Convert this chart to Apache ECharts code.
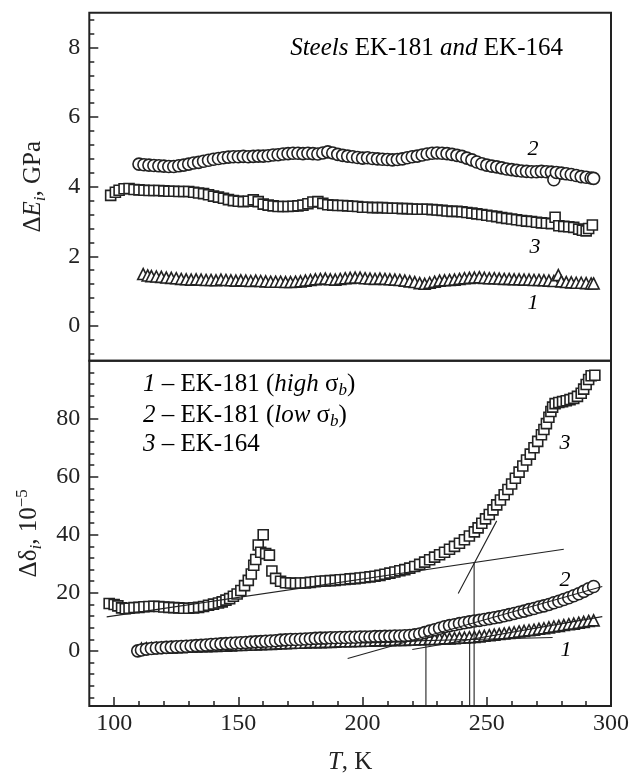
<!DOCTYPE html>
<html>
<head>
<meta charset="utf-8">
<script src="https://cdn.jsdelivr.net/npm/echarts@6/dist/echarts.min.js"></script>
<style>
  html, body { margin: 0; padding: 0; background: #fff; }
  #chart { width: 642px; height: 776px; }
</style>
</head>
<body>
<div id="chart"></div>
<script>
// top panel: ΔE_i, GPa  [T, value]
const modulus1 = [[111.7,1.49],[113.5,1.45],[115,1.43],[117,1.42],[119,1.41],[121,1.39],[123,1.38],[125,1.37],[127,1.35],[129,1.34],[131,1.33],[133,1.34],[135,1.33],[137,1.32],[139,1.32],[141,1.31],[143,1.33],[145,1.32],[147,1.31],[149,1.30],[151,1.31],[153,1.30],[155,1.29],[157,1.30],[159,1.29],[161,1.28],[163,1.27],[165,1.27],[167,1.27],[169,1.26],[171,1.26],[173,1.27],[175,1.28],[177,1.30],[179,1.32],[181,1.34],[183,1.35],[185,1.36],[187,1.34],[189,1.33],[191,1.35],[193,1.37],[195,1.38],[197,1.39],[199,1.39],[201,1.37],[203,1.36],[205,1.35],[207,1.36],[209,1.35],[211,1.34],[213,1.33],[215,1.32],[217,1.30],[219,1.28],[221,1.26],[223,1.23],[225,1.21],[227,1.24],[229,1.27],[231,1.30],[233,1.31],[235,1.32],[237,1.33],[239,1.35],[241,1.37],[243,1.38],[245,1.39],[247,1.40],[249,1.38],[251,1.37],[253,1.37],[255,1.36],[257,1.35],[259,1.35],[261,1.34],[263,1.34],[265,1.33],[267,1.33],[269,1.32],[271,1.32],[273,1.31],[275,1.30],[277,1.29],[278.8,1.46],[280,1.28],[282,1.26],[284,1.25],[286,1.24],[288,1.24],[290,1.23],[292,1.22],[293,1.22]]
const modulus2 = [[110,4.65],[112,4.63],[114,4.62],[116,4.61],[118,4.60],[120,4.59],[122,4.58],[124,4.58],[126,4.60],[128,4.62],[130,4.65],[132,4.68],[134,4.70],[136,4.73],[138,4.76],[140,4.79],[142,4.81],[144,4.83],[146,4.85],[148,4.86],[150,4.86],[152,4.87],[154,4.86],[156,4.87],[158,4.88],[160,4.88],[162,4.89],[164,4.91],[166,4.92],[168,4.94],[170,4.95],[172,4.96],[174,4.96],[176,4.95],[178,4.96],[180,4.95],[182,4.94],[184,4.97],[186,5.00],[188,4.97],[190,4.93],[192,4.90],[194,4.88],[196,4.86],[198,4.84],[200,4.82],[202,4.83],[204,4.81],[206,4.80],[208,4.79],[210,4.78],[212,4.77],[214,4.78],[216,4.80],[218,4.83],[220,4.86],[222,4.88],[224,4.91],[226,4.94],[228,4.96],[230,4.97],[232,4.96],[234,4.95],[236,4.93],[238,4.90],[240,4.87],[242,4.82],[244,4.77],[246,4.71],[248,4.66],[250,4.62],[252,4.59],[254,4.57],[256,4.54],[258,4.51],[260,4.49],[262,4.47],[264,4.45],[266,4.44],[268,4.43],[270,4.43],[272,4.44],[274,4.43],[276,4.42],[277,4.20],[278,4.41],[280,4.39],[282,4.37],[284,4.35],[286,4.32],[288,4.29],[290,4.27],[292,4.25],[293,4.24]]
const modulus3 = [[98.6,3.75],[100.5,3.84],[102,3.90],[104,3.94],[106,3.95],[108,3.92],[110,3.91],[112,3.90],[114,3.89],[116,3.89],[118,3.89],[120,3.88],[122,3.87],[124,3.87],[126,3.86],[128,3.86],[130,3.86],[132,3.84],[134,3.82],[136,3.80],[138,3.77],[140,3.73],[142,3.70],[144,3.67],[146,3.63],[148,3.60],[150,3.58],[152,3.57],[154,3.58],[156,3.62],[158,3.57],[160,3.50],[162,3.47],[164,3.45],[166,3.43],[168,3.43],[170,3.43],[172,3.44],[174,3.45],[176,3.47],[178,3.51],[180,3.56],[182,3.57],[184,3.52],[186,3.48],[188,3.47],[190,3.46],[192,3.46],[194,3.45],[196,3.44],[198,3.43],[200,3.41],[202,3.41],[204,3.40],[206,3.40],[208,3.40],[210,3.39],[212,3.38],[214,3.38],[216,3.37],[218,3.37],[220,3.36],[222,3.35],[224,3.35],[226,3.35],[228,3.34],[230,3.33],[232,3.32],[234,3.30],[236,3.29],[238,3.29],[240,3.28],[242,3.26],[244,3.24],[246,3.22],[248,3.20],[250,3.18],[252,3.16],[254,3.14],[256,3.11],[258,3.09],[260,3.07],[262,3.05],[264,3.03],[266,3.01],[268,3.00],[270,2.98],[272,2.96],[274,2.95],[276,2.94],[277.5,3.12],[279,2.88],[281,2.86],[283,2.85],[285,2.83],[287,2.78],[288.5,2.75],[290,2.73],[291,2.80],[292.5,2.90]]

// bottom panel: Δδ_i, 10^-5  [T, value]
const damping1 = [[111,0.8],[113,0.9],[115,0.9],[117,1.0],[119,1.1],[121,1.1],[123,1.2],[125,1.3],[127,1.3],[129,1.4],[131,1.5],[133,1.5],[135,1.6],[137,1.6],[139,1.7],[141,1.7],[143,1.8],[145,1.8],[147,1.9],[149,2.0],[151,2.0],[153,2.1],[155,2.2],[157,2.2],[159,2.3],[161,2.4],[163,2.4],[165,2.5],[167,2.6],[169,2.6],[171,2.7],[173,2.8],[175,2.8],[177,2.9],[179,3.0],[181,3.0],[183,3.0],[185,3.1],[187,3.1],[189,3.2],[191,3.3],[193,3.3],[195,3.3],[197,3.4],[199,3.4],[201,3.5],[203,3.5],[205,3.6],[207,3.6],[209,3.7],[211,3.7],[213,3.8],[215,3.8],[217,3.8],[219,3.9],[221,3.9],[223,4.0],[225,4.0],[227,4.1],[229,4.1],[231,4.2],[233,4.3],[235,4.3],[237,4.4],[239,4.5],[241,4.6],[243,4.7],[245,4.8],[247,5.0],[249,5.2],[251,5.4],[253,5.6],[255,5.8],[257,6.0],[259,6.2],[261,6.4],[263,6.7],[265,6.9],[267,7.1],[269,7.3],[271,7.6],[273,7.8],[275,8.1],[277,8.4],[279,8.6],[281,8.9],[283,9.2],[285,9.4],[287,9.7],[289,10.0],[291,10.3],[293,10.5]]
const damping2 = [[109.5,0.0],[111,0.3],[113,0.6],[115,0.8],[117,1.0],[119,1.1],[121,1.2],[123,1.3],[125,1.4],[127,1.5],[129,1.6],[131,1.7],[133,1.8],[135,1.9],[137,2.0],[139,2.2],[141,2.3],[143,2.4],[145,2.5],[147,2.6],[149,2.7],[151,2.8],[153,2.9],[155,3.0],[157,3.1],[159,3.2],[161,3.3],[163,3.4],[165,3.5],[167,3.7],[169,3.8],[171,3.9],[173,3.9],[175,4.0],[177,4.1],[179,4.2],[181,4.3],[183,4.4],[185,4.4],[187,4.5],[189,4.5],[191,4.6],[193,4.6],[195,4.7],[197,4.7],[199,4.8],[201,4.8],[203,4.8],[205,4.9],[207,4.9],[209,5.0],[211,5.0],[213,5.1],[215,5.1],[217,5.2],[219,5.3],[221,5.5],[223,5.8],[225,6.3],[227,6.8],[229,7.3],[231,7.8],[233,8.3],[235,8.7],[237,9.0],[239,9.4],[241,9.7],[243,10.0],[245,10.3],[247,10.5],[249,10.8],[251,11.1],[253,11.4],[255,11.7],[257,12.1],[259,12.5],[261,12.9],[263,13.3],[265,13.7],[267,14.2],[269,14.6],[271,15.1],[273,15.5],[275,16.0],[277,16.6],[279,17.1],[281,17.7],[283,18.3],[285,19.0],[287,19.7],[289,20.5],[291,21.4],[293,22.2]]
const damping3 = [[98,16.3],[100,16.0],[101.5,15.5],[103,14.8],[104.5,14.5],[106,14.7],[108,14.9],[110,15.0],[112,15.2],[114,15.3],[116,15.4],[118,15.3],[120,15.1],[122,15.0],[124,14.9],[126,14.8],[128,14.7],[130,14.7],[132,14.8],[134,15.0],[136,15.3],[138,15.7],[140,16.1],[142,16.5],[143.5,16.9],[145,17.5],[146.5,18.0],[148,18.8],[149.5,19.6],[151,20.8],[152.5,22.5],[154,24.3],[155.2,26.5],[156.2,29.5],[157,31.5],[158,36.5],[159,34.0],[160,40.0],[161,33.5],[162.5,33.0],[163.5,27.5],[165,25.0],[167,24.0],[169,23.5],[171,23.4],[173,23.3],[175,23.4],[177,23.4],[179,23.6],[181,23.8],[183,24.0],[185,24.1],[187,24.2],[189,24.3],[191,24.5],[193,24.6],[195,24.8],[197,24.9],[199,25.1],[201,25.3],[203,25.5],[205,25.7],[207,26.0],[209,26.4],[211,26.8],[213,27.2],[215,27.6],[217,28.0],[219,28.5],[221,29.1],[223,29.8],[225,30.6],[227,31.4],[229,32.3],[231,33.1],[233,34.0],[235,35.0],[237,36.0],[239,37.1],[241,38.3],[243,39.6],[245,41.0],[246.5,42.4],[248,44.0],[249.5,45.5],[251,47.0],[252.5,48.6],[254,50.3],[255.5,52.0],[257,53.8],[258.5,55.6],[260,57.5],[261.5,59.5],[263,61.6],[264.5,63.7],[266,65.8],[267.5,67.8],[269,70.0],[270.5,72.2],[272,74.5],[273,76.3],[274,78.3],[275,80.5],[275.8,82.5],[276.5,84.0],[277.5,85.2],[279,85.6],[280.5,85.9],[282,86.2],[283.5,86.6],[285,87.0],[286.5,87.7],[288,88.8],[289,90.2],[290,91.8],[291,93.5],[292,94.8],[293.5,95.0]]

// construction lines in the bottom panel
const tangentLines = [
  [[97, 11.7], [281, 35.0]],
  [[238.5, 19.8], [254, 44.8]],
  [[194, -2.6], [296.5, 22.2]],
  [[220, 0.5], [296.5, 11.8]],
  [[200, 3.0], [276.5, 4.6]]
]
const dropTemps = [225.5, 243.1, 244.9]
const dropTops = [5.0, 3.9, 30.3]

// axes
const tRange = [90, 300]
const tTicks = [100, 150, 200, 250, 300]
const eRange = [-1, 9]
const eTicks = [0, 2, 4, 6, 8]
const dRange = [-19, 100]
const dTicks = [0, 20, 40, 60, 80]

const FONT = "'Liberation Serif', 'Times New Roman', Times, serif"
const INK = '#222'

function minorTicks(lo, hi, step, majorStep) {
  const out = []
  for (let v = Math.ceil(lo / step) * step; v < hi - 1e-9; v += step) {
    const r = Math.round(v * 1000) / 1000
    if (Math.abs(r / majorStep - Math.round(r / majorStep)) > 1e-6) out.push(r)
  }
  return out
}

function richSet(size, subSize) {
  const base = { fontFamily: FONT, color: INK }
  return {
    t: { ...base, fontSize: size, lineHeight: size + 6 },
    it: { ...base, fontSize: size, fontStyle: 'italic', lineHeight: size + 6 },
    subit: { ...base, fontSize: subSize, fontStyle: 'italic', lineHeight: subSize, verticalAlign: 'bottom' },
    sup: { ...base, fontSize: subSize, lineHeight: subSize, verticalAlign: 'top' }
  }
}
const nameRich = richSet(25, 17)
const noteRich = richSet(25, 17)
const numRich = richSet(22, 15)

const chart = echarts.init(document.getElementById('chart'))

const grids = [
  { left: 89.3, top: 12.7, width: 521.7, height: 348 },
  { left: 89.3, top: 360.7, width: 521.7, height: 348 }
].map(g => ({ ...g, show: true, borderColor: INK, borderWidth: 2, backgroundColor: 'transparent' }))

const tickLabel = { fontFamily: FONT, fontSize: 24, color: INK }

function valAxis(extra) {
  return Object.assign({
    type: 'value',
    axisLine: { show: false, onZero: false },
    splitLine: { show: false },
    axisTick: { show: false },
    axisLabel: { show: false }
  }, extra)
}

const xAxes = [
  valAxis({ gridIndex: 0, min: tRange[0], max: tRange[1], position: 'bottom' }),
  valAxis({
    gridIndex: 1, min: tRange[0], max: tRange[1], position: 'bottom',
    axisTick: { show: true, inside: true, length: 9, customValues: tTicks, lineStyle: { color: INK, width: 1.5 } },
    axisLabel: { show: true, customValues: tTicks, margin: 6, ...tickLabel },
    name: '{it|T}{t|, K}', nameLocation: 'middle', nameGap: 41,
    nameTextStyle: { rich: nameRich }
  }),
  valAxis({
    gridIndex: 1, min: tRange[0], max: tRange[1], position: 'bottom',
    axisTick: { show: true, inside: true, length: 5, customValues: minorTicks(100, 300, 10, 50), lineStyle: { color: INK, width: 1.5 } }
  })
]

const yAxes = [
  valAxis({
    gridIndex: 0, min: eRange[0], max: eRange[1], position: 'left',
    axisTick: { show: true, inside: true, length: 9, customValues: eTicks, lineStyle: { color: INK, width: 1.5 } },
    axisLabel: { show: true, customValues: eTicks, margin: 9, ...tickLabel },
    name: '{t|Δ}{it|E}{subit|i}{t|, GPa}', nameLocation: 'middle', nameGap: 40, nameRotate: 90,
    nameTextStyle: { rich: nameRich }
  }),
  valAxis({
    gridIndex: 0, min: eRange[0], max: eRange[1], position: 'left',
    axisTick: { show: true, inside: true, length: 5, customValues: minorTicks(-1, 9, 0.4, 2), lineStyle: { color: INK, width: 1.5 } }
  }),
  valAxis({
    gridIndex: 1, min: dRange[0], max: dRange[1], position: 'left',
    axisTick: { show: true, inside: true, length: 9, customValues: dTicks, lineStyle: { color: INK, width: 1.5 } },
    axisLabel: { show: true, customValues: dTicks, margin: 9, ...tickLabel },
    name: '{t|Δδ}{subit|i}{t|, 10}{sup|−5}', nameLocation: 'middle', nameGap: 40, nameRotate: 90,
    nameTextStyle: { rich: nameRich }
  }),
  valAxis({
    gridIndex: 1, min: dRange[0], max: dRange[1], position: 'left',
    axisTick: { show: true, inside: true, length: 5, customValues: minorTicks(-19, 100, 4, 20), lineStyle: { color: INK, width: 1.5 } }
  })
]

function markers(data, symbol, size, xi, yi) {
  return {
    type: 'scatter', data, symbol, symbolSize: size,
    xAxisIndex: xi, yAxisIndex: yi,
    itemStyle: { color: '#fff', borderColor: INK, borderWidth: 1.6, opacity: 1 },
    silent: true
  }
}

function thinLine(data) {
  return {
    type: 'line', data, xAxisIndex: 1, yAxisIndex: 2,
    symbol: 'none', silent: true, z: 5,
    lineStyle: { color: INK, width: 1.1 }
  }
}

const series = [
  markers(modulus1, 'triangle', 11, 0, 0),
  markers(modulus3, 'rect', 10, 0, 0),
  markers(modulus2, 'circle', 12, 0, 0),
  markers(damping1, 'triangle', 11, 1, 2),
  markers(damping2, 'circle', 12, 1, 2),
  markers(damping3, 'rect', 10, 1, 2),
  ...tangentLines.map(thinLine),
  ...dropTemps.map((t, i) => thinLine([[t, dRange[0]], [t, dropTops[i]]]))
]

function label(x, y, text, rich, align) {
  return {
    type: 'text', x, y, z: 10,
    style: { text, rich, textAlign: align || 'center', textVerticalAlign: 'middle' }
  }
}

const graphic = [
  label(563, 48, '{it|Steels}{t| EK-181 }{it|and}{t| EK-164}', noteRich, 'right'),
  label(143, 384, '{it|1}{t| – EK-181 (}{it|high}{t| σ}{subit|b}{t|)}', noteRich, 'left'),
  label(143, 415, '{it|2}{t| – EK-181 (}{it|low}{t| σ}{subit|b}{t|)}', noteRich, 'left'),
  label(143, 444, '{it|3}{t| – EK-164}', noteRich, 'left'),
  label(533, 149, '{it|2}', numRich),
  label(535, 247, '{it|3}', numRich),
  label(533, 303, '{it|1}', numRich),
  label(565, 443, '{it|3}', numRich),
  label(565, 580, '{it|2}', numRich),
  label(566, 650, '{it|1}', numRich)
]

chart.setOption({
  animation: false,
  backgroundColor: '#fff',
  grid: grids,
  xAxis: xAxes,
  yAxis: yAxes,
  series,
  graphic
})
</script>
</body>
</html>
